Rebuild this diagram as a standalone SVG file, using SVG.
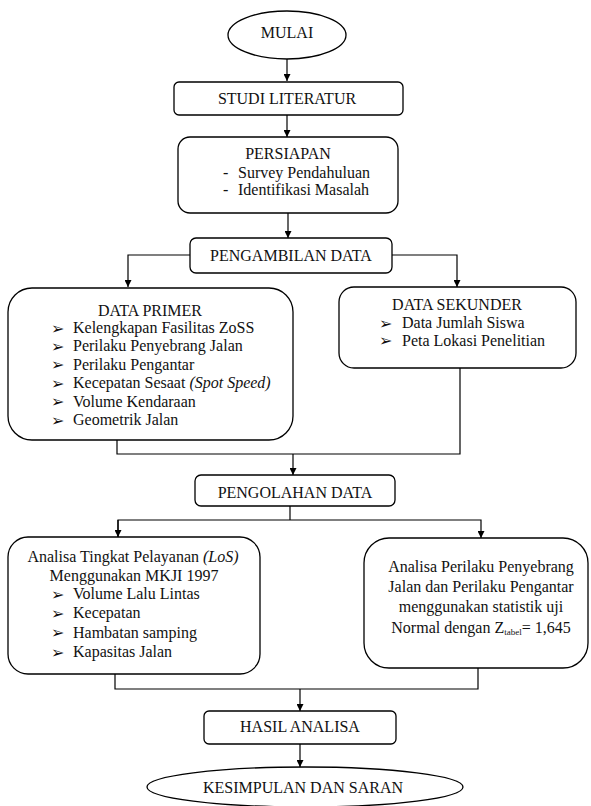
<svg xmlns="http://www.w3.org/2000/svg" width="591" height="806" viewBox="0 0 591 806">
<style>
.s{fill:#fff;stroke:#000;stroke-width:1.3}
.c{fill:none;stroke:#000;stroke-width:1.2}
text{font-family:"Liberation Serif","Times New Roman",serif;font-size:16px;fill:#111}
.m{text-anchor:middle}
.b{font-family:"DejaVu Sans",sans-serif;font-size:16px}
.sub{font-size:9px}
</style>
<defs>
<marker id="ah" viewBox="0 0 8 8" refX="8" refY="4" markerWidth="7" markerHeight="7" markerUnits="userSpaceOnUse" orient="auto">
<path d="M0,0 L8,4 L0,8 Z" fill="#000"/>
</marker>
</defs>
<rect width="591" height="806" fill="#fff"/>
<g id="connectors">
<line class="c" x1="287" y1="58" x2="287" y2="81" marker-end="url(#ah)"/>
<line class="c" x1="287" y1="115" x2="287" y2="137" marker-end="url(#ah)"/>
<line class="c" x1="288" y1="213" x2="288" y2="238" marker-end="url(#ah)"/>
<polyline class="c" points="190,255 128,255 128,287" marker-end="url(#ah)"/>
<polyline class="c" points="392,255 457,255 457,287" marker-end="url(#ah)"/>
<polyline class="c" points="117,440 117,454 460,454 460,368"/>
<line class="c" x1="293" y1="454" x2="293" y2="475" marker-end="url(#ah)"/>
<line class="c" x1="290" y1="506" x2="290" y2="520"/>
<polyline class="c" points="118,537 118,520 481,520 481,538" marker-end="url(#ah)"/>
<line class="c" x1="118" y1="520" x2="118" y2="537" marker-end="url(#ah)"/>
<polyline class="c" points="115,674 115,689 478,689 478,668"/>
<line class="c" x1="300" y1="689" x2="300" y2="711" marker-end="url(#ah)"/>
<line class="c" x1="300" y1="744" x2="300" y2="767" marker-end="url(#ah)"/>
</g>
<g id="mulai">
<ellipse class="s" cx="287" cy="35" rx="59" ry="24"/>
<text class="m" x="287" y="38">MULAI</text>
</g>
<g id="studi">
<rect class="s" x="174" y="82" width="229" height="33" rx="5"/>
<text class="m" x="287" y="103.5">STUDI LITERATUR</text>
</g>
<g id="persiapan">
<rect class="s" x="178" y="137" width="220" height="76" rx="12"/>
<text class="m" x="288" y="158.5">PERSIAPAN</text>
<text x="223" y="178">-</text>
<text x="238" y="178">Survey Pendahuluan</text>
<text x="223" y="195">-</text>
<text x="238" y="195">Identifikasi Masalah</text>
</g>
<g id="pengambilan">
<rect class="s" x="190" y="238" width="202" height="35" rx="6"/>
<text class="m" x="291" y="260.5">PENGAMBILAN DATA</text>
</g>
<g id="primer">
<rect class="s" x="8" y="288" width="285" height="152" rx="24"/>
<text class="m" x="150" y="315.5">DATA PRIMER</text>
<text class="b" x="51" y="333.5">➢</text><text x="73" y="333">Kelengkapan Fasilitas ZoSS</text>
<text class="b" x="51" y="351.9">➢</text><text x="73" y="351.4">Perilaku Penyebrang Jalan</text>
<text class="b" x="51" y="370.3">➢</text><text x="73" y="369.8">Perilaku Pengantar</text>
<text class="b" x="51" y="388.7">➢</text><text x="73" y="388.2">Kecepatan Sesaat <tspan font-style="italic">(Spot Speed)</tspan></text>
<text class="b" x="51" y="407.1">➢</text><text x="73" y="406.6">Volume Kendaraan</text>
<text class="b" x="51" y="425.5">➢</text><text x="73" y="425">Geometrik Jalan</text>
</g>
<g id="sekunder">
<rect class="s" x="339" y="287" width="237" height="81" rx="15"/>
<text class="m" x="457" y="309.5">DATA SEKUNDER</text>
<text class="b" x="379" y="328.5">➢</text><text x="402" y="328">Data Jumlah Siswa</text>
<text class="b" x="379" y="346">➢</text><text x="402" y="346">Peta Lokasi Penelitian</text>
</g>
<g id="pengolahan">
<rect class="s" x="195" y="475" width="200" height="31" rx="6"/>
<text class="m" x="295" y="497.5">PENGOLAHAN DATA</text>
</g>
<g id="analisa-los">
<rect class="s" x="8" y="537" width="252" height="137" rx="20"/>
<text class="m" x="133" y="562">Analisa Tingkat Pelayanan <tspan font-style="italic">(LoS)</tspan></text>
<text class="m" x="134" y="581">Menggunakan MKJI 1997</text>
<text class="b" x="51" y="599.5">➢</text><text x="73" y="599">Volume Lalu Lintas</text>
<text class="b" x="51" y="618.5">➢</text><text x="73" y="618">Kecepatan</text>
<text class="b" x="51" y="638">➢</text><text x="73" y="638">Hambatan samping</text>
<text class="b" x="51" y="657.5">➢</text><text x="73" y="657">Kapasitas Jalan</text>
</g>
<g id="analisa-perilaku">
<rect class="s" x="364" y="538" width="224" height="130" rx="25"/>
<text class="m" x="481" y="572">Analisa Perilaku Penyebrang</text>
<text class="m" x="481" y="592">Jalan dan Perilaku Pengantar</text>
<text class="m" x="481" y="612">menggunakan statistik uji</text>
<text class="m" x="481" y="633">Normal dengan Z<tspan class="sub" dy="2">tabel</tspan><tspan dy="-2">= 1,645</tspan></text>
</g>
<g id="hasil">
<rect class="s" x="204" y="711" width="192" height="33" rx="5"/>
<text class="m" x="300" y="731.5">HASIL ANALISA</text>
</g>
<g id="kesimpulan">
<ellipse class="s" cx="305" cy="787" rx="158" ry="20"/>
<text class="m" x="303" y="792.5">KESIMPULAN DAN SARAN</text>
</g>
</svg>
